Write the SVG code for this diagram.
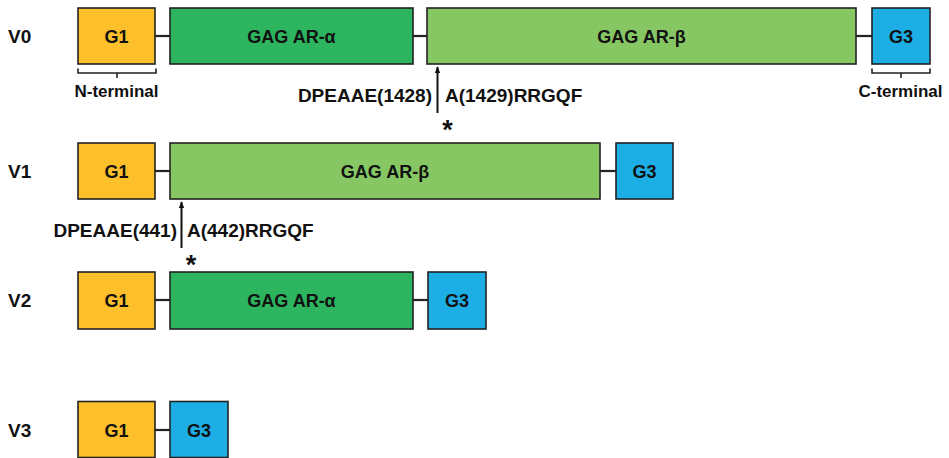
<svg xmlns="http://www.w3.org/2000/svg" width="949" height="458" viewBox="0 0 949 458">
  <defs>
    <marker id="arrowhead" viewBox="0 0 10 10" refX="9" refY="5" markerWidth="7" markerHeight="7" orient="auto" markerUnits="userSpaceOnUse">
      <path d="M0,1 L10,5 L0,9 z" fill="#111"/>
    </marker>
    <style>
      text { font-family: "Liberation Sans", Arial, sans-serif; font-weight: bold; fill: #111; }
      .box { stroke: #222; stroke-width: 1.6; }
      .g1 { fill: #FDBF2A; }
      .alpha { fill: #2DB45F; }
      .beta { fill: #86C764; }
      .g3 { fill: #1CAEE4; }
      .lbl { font-size: 19px; }
      .name { font-size: 18px; text-anchor: middle; }
      .seq { font-size: 19px; }
      .star { font-size: 27px; text-anchor: middle; }
      .term { font-size: 17px; text-anchor: middle; }
      .link { stroke: #222; stroke-width: 2.2; fill: none; }
      .brace { stroke: #222; stroke-width: 1.6; fill: none; }
      .site { stroke: #111; stroke-width: 2; fill: none; }
    </style>
  </defs>

  <!-- row labels -->
  <g id="labels">
    <text class="lbl" x="8" y="43">V0</text>
    <text class="lbl" x="8" y="178">V1</text>
    <text class="lbl" x="8" y="307">V2</text>
    <text class="lbl" x="8" y="437">V3</text>
  </g>

  <!-- linkers between domains -->
  <g id="connectors">
    <line class="link" x1="155" y1="36" x2="170" y2="36"/>
    <line class="link" x1="413" y1="36" x2="427" y2="36"/>
    <line class="link" x1="856" y1="36" x2="872" y2="36"/>
    <line class="link" x1="155" y1="171" x2="170" y2="171"/>
    <line class="link" x1="600" y1="171" x2="616" y2="171"/>
    <line class="link" x1="155" y1="300" x2="170" y2="300"/>
    <line class="link" x1="413" y1="300" x2="428" y2="300"/>
    <line class="link" x1="155" y1="430" x2="170" y2="430"/>
    <!-- cleavage sites -->
    <line class="site" x1="437.5" y1="113" x2="437.5" y2="67" marker-end="url(#arrowhead)"/>
    <line class="site" x1="181.5" y1="248" x2="181.5" y2="202" marker-end="url(#arrowhead)"/>
  </g>

  <!-- V0 -->
  <g id="v0-g1"><rect class="box g1" x="78" y="8" width="77" height="56"/><text class="name" x="116.5" y="42.5">G1</text></g>
  <g id="v0-alpha"><rect class="box alpha" x="170" y="8" width="243" height="56"/><text class="name" x="291.5" y="42.5">GAG AR-α</text></g>
  <g id="v0-beta"><rect class="box beta" x="427" y="8" width="429" height="56"/><text class="name" x="641.5" y="42.5">GAG AR-β</text></g>
  <g id="v0-g3"><rect class="box g3" x="872" y="8" width="58" height="56"/><text class="name" x="901" y="42.5">G3</text></g>
  <g id="n-terminal">
    <path class="brace" d="M78,68.5 V73 H156 V68.5 M117,73 V78"/>
    <text class="term" x="116.5" y="97">N-terminal</text>
  </g>
  <g id="c-terminal">
    <path class="brace" d="M872,68.5 V73 H930 V68.5 M901,73 V78"/>
    <text class="term" x="900.5" y="97">C-terminal</text>
  </g>
  <g id="v0-site">
    <text class="seq" x="432" y="102" text-anchor="end">DPEAAE(1428)</text>
    <text class="seq" x="445" y="102">A(1429)RRGQF</text>
    <text class="star" x="447.5" y="139">*</text>
  </g>

  <!-- V1 -->
  <g id="v1-g1"><rect class="box g1" x="78" y="143" width="77" height="56"/><text class="name" x="116.5" y="177.5">G1</text></g>
  <g id="v1-beta"><rect class="box beta" x="170" y="143" width="430" height="56"/><text class="name" x="385" y="177.5">GAG AR-β</text></g>
  <g id="v1-g3"><rect class="box g3" x="616" y="143" width="57" height="56"/><text class="name" x="644.5" y="177.5">G3</text></g>
  <g id="v1-site">
    <text class="seq" x="177" y="237" text-anchor="end">DPEAAE(441)</text>
    <text class="seq" x="187" y="237">A(442)RRGQF</text>
    <text class="star" x="191" y="274">*</text>
  </g>

  <!-- V2 -->
  <g id="v2-g1"><rect class="box g1" x="78" y="272" width="77" height="57"/><text class="name" x="116.5" y="307">G1</text></g>
  <g id="v2-alpha"><rect class="box alpha" x="170" y="272" width="243" height="57"/><text class="name" x="291.5" y="307">GAG AR-α</text></g>
  <g id="v2-g3"><rect class="box g3" x="428" y="272" width="58" height="57"/><text class="name" x="457" y="307">G3</text></g>

  <!-- V3 -->
  <g id="v3-g1"><rect class="box g1" x="78" y="401.5" width="77" height="56"/><text class="name" x="116.5" y="437">G1</text></g>
  <g id="v3-g3"><rect class="box g3" x="170" y="401.5" width="58" height="56"/><text class="name" x="199" y="437">G3</text></g>
</svg>
